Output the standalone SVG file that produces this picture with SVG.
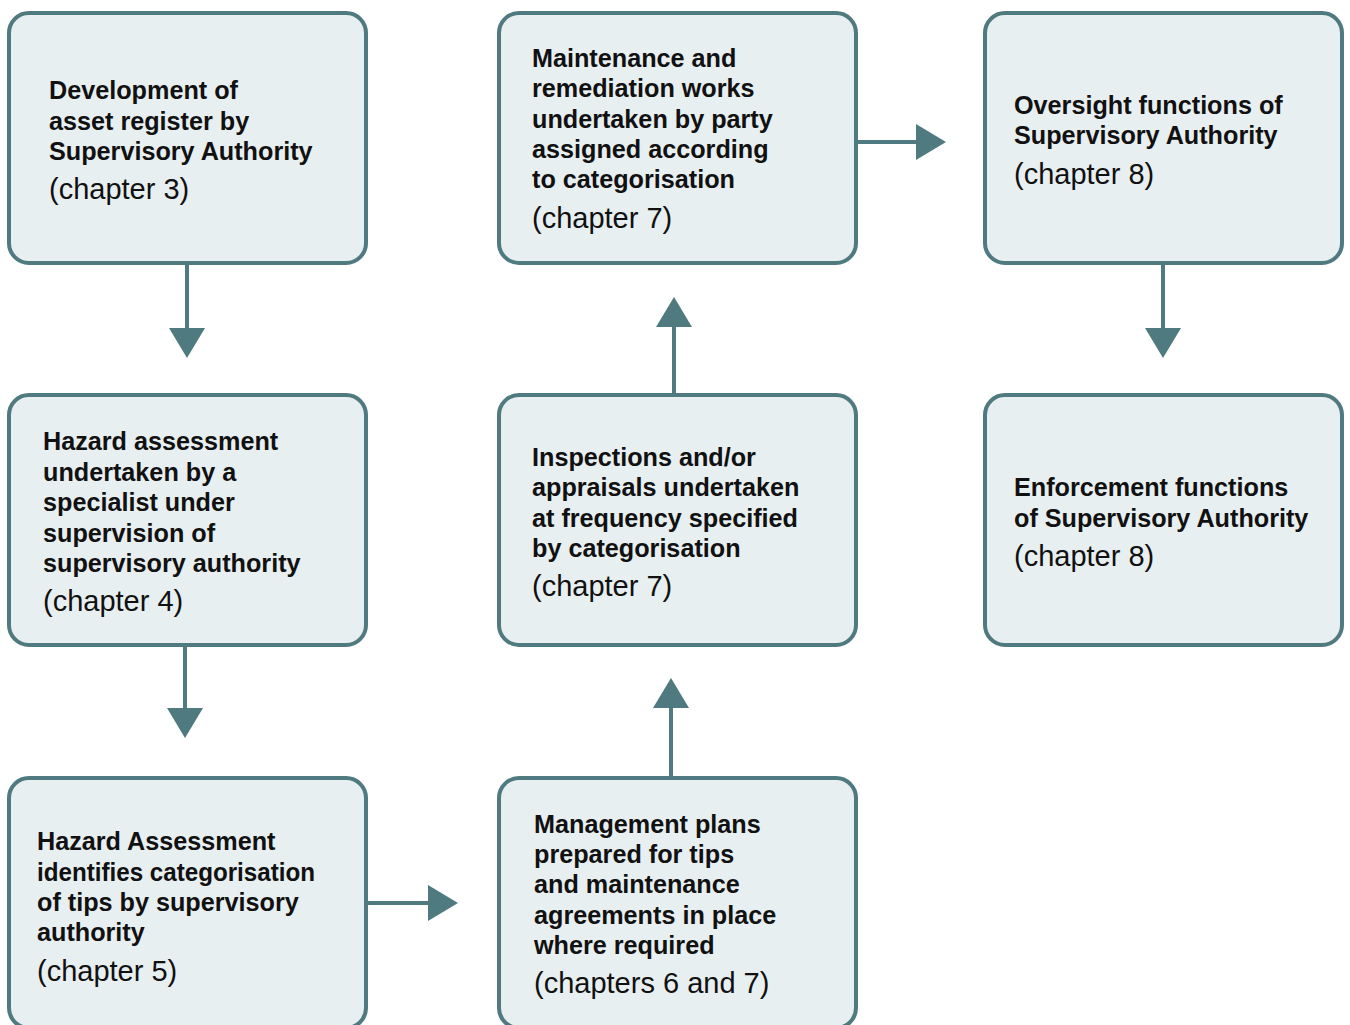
<svg xmlns="http://www.w3.org/2000/svg" width="1350" height="1025" viewBox="0 0 1350 1025">
<style>
.box{fill:#e8eff1;stroke:#4f7a80;stroke-width:4}
.b{font-family:"Liberation Sans",Arial,sans-serif;font-weight:bold;font-size:25.2px;fill:#111}
.r{font-family:"Liberation Sans",Arial,sans-serif;font-size:29px;fill:#111}
.ln{stroke:#4f7a80;stroke-width:4;fill:none}
.hd{fill:#4f7a80}
</style>
<rect width="1350" height="1025" fill="#ffffff"/>
<g id="connectors">
<line class="ln" x1="187" y1="263" x2="187" y2="330"/><polygon class="hd" points="169,328 205,328 187,358"/>
<line class="ln" x1="185" y1="645" x2="185" y2="710"/><polygon class="hd" points="167,708 203,708 185,738"/>
<line class="ln" x1="366" y1="903" x2="430" y2="903"/><polygon class="hd" points="428,885 428,921 458,903"/>
<line class="ln" x1="671" y1="778" x2="671" y2="706"/><polygon class="hd" points="653,708 689,708 671,678"/>
<line class="ln" x1="674" y1="395" x2="674" y2="325"/><polygon class="hd" points="656,327 692,327 674,297"/>
<line class="ln" x1="856" y1="142" x2="918" y2="142"/><polygon class="hd" points="916,124 916,160 946,142"/>
<line class="ln" x1="1163" y1="263" x2="1163" y2="330"/><polygon class="hd" points="1145,328 1181,328 1163,358"/>
</g>
<g id="n1"><rect class="box" x="9" y="13" width="357" height="250" rx="20"/>
<text class="b" x="49" y="99">Development of</text>
<text class="b" x="49" y="130">asset register by</text>
<text class="b" x="49" y="160">Supervisory Authority</text>
<text class="r" x="49" y="199">(chapter 3)</text></g>
<g id="n2"><rect class="box" x="9" y="395" width="357" height="250" rx="20"/>
<text class="b" x="43" y="450">Hazard assessment</text>
<text class="b" x="43" y="481">undertaken by a</text>
<text class="b" x="43" y="511">specialist under</text>
<text class="b" x="43" y="542">supervision of</text>
<text class="b" x="43" y="572">supervisory authority</text>
<text class="r" x="43" y="611">(chapter 4)</text></g>
<g id="n3"><rect class="box" x="9" y="778" width="357" height="250" rx="20"/>
<text class="b" x="37" y="850">Hazard Assessment</text>
<text class="b" x="37" y="881" textLength="278" lengthAdjust="spacingAndGlyphs">identifies categorisation</text>
<text class="b" x="37" y="911">of tips by supervisory</text>
<text class="b" x="37" y="941">authority</text>
<text class="r" x="37" y="981">(chapter 5)</text></g>
<g id="n4"><rect class="box" x="499" y="778" width="357" height="250" rx="20"/>
<text class="b" x="534" y="833">Management plans</text>
<text class="b" x="534" y="863">prepared for tips</text>
<text class="b" x="534" y="893">and maintenance</text>
<text class="b" x="534" y="924">agreements in place</text>
<text class="b" x="534" y="954">where required</text>
<text class="r" x="534" y="993">(chapters 6 and 7)</text></g>
<g id="n5"><rect class="box" x="499" y="395" width="357" height="250" rx="20"/>
<text class="b" x="532" y="466">Inspections and/or</text>
<text class="b" x="532" y="496">appraisals undertaken</text>
<text class="b" x="532" y="527">at frequency specified</text>
<text class="b" x="532" y="557">by categorisation</text>
<text class="r" x="532" y="596">(chapter 7)</text></g>
<g id="n6"><rect class="box" x="499" y="13" width="357" height="250" rx="20"/>
<text class="b" x="532" y="67">Maintenance and</text>
<text class="b" x="532" y="97">remediation works</text>
<text class="b" x="532" y="128">undertaken by party</text>
<text class="b" x="532" y="158">assigned according</text>
<text class="b" x="532" y="188">to categorisation</text>
<text class="r" x="532" y="228">(chapter 7)</text></g>
<g id="n7"><rect class="box" x="985" y="13" width="357" height="250" rx="20"/>
<text class="b" x="1014" y="114">Oversight functions of</text>
<text class="b" x="1014" y="144">Supervisory Authority</text>
<text class="r" x="1014" y="184">(chapter 8)</text></g>
<g id="n8"><rect class="box" x="985" y="395" width="357" height="250" rx="20"/>
<text class="b" x="1014" y="496">Enforcement functions</text>
<text class="b" x="1014" y="527">of Supervisory Authority</text>
<text class="r" x="1014" y="566">(chapter 8)</text></g>
</svg>
